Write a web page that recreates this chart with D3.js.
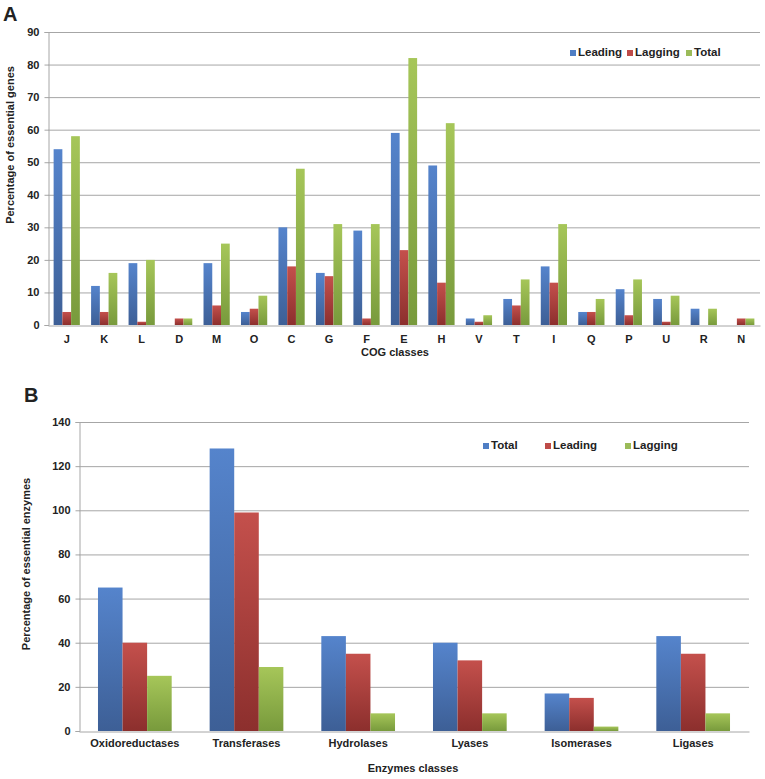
<!DOCTYPE html>
<html><head><meta charset="utf-8">
<script src="https://cdn.jsdelivr.net/npm/d3@7"></script>
<style>
html,body{margin:0;padding:0;background:#fff;}
text{font-family:"Liberation Sans",Arial,sans-serif;font-weight:bold;fill:#222;}
</style></head>
<body>
<svg id="c" width="765" height="779"></svg>
<script>
// Panel A data
const cogClasses = ["J","K","L","D","M","O","C","G","F","E","H","V","T","I","Q","P","U","R","N"];
const cogLeading = [54,12,19,0,19,4,30,16,29,59,49,2,8,18,4,11,8,5,0];
const cogLagging = [4,4,1,2,6,5,18,15,2,23,13,1,6,13,4,3,1,0,2];
const cogTotal   = [58,16,20,2,25,9,48,31,31,82,62,3,14,31,8,14,9,5,2];
const cogSeries  = ["Leading","Lagging","Total"];
const cogTicks   = [0,10,20,30,40,50,60,70,80,90];

// Panel B data
const enzClasses = ["Oxidoreductases","Transferases","Hydrolases","Lyases","Isomerases","Ligases"];
const enzTotal   = [65,128,43,40,17,43];
const enzLeading = [40,99,35,32,15,35];
const enzLagging = [25,29,8,8,2,8];
const enzSeries  = ["Total","Leading","Lagging"];
const enzTicks   = [0,20,40,60,80,100,120,140];

const svg = d3.select("#c");
const defs = svg.append("defs");
const palette = {
  blue: ["#5584cc","#3d5f96"],
  red: ["#c4504c","#8c2f2d"],
  green: ["#a6c659","#789a3c"]
};
Object.entries(palette).forEach(([k,[a,b]])=>{
  const g = defs.append("linearGradient").attr("id","g-"+k).attr("x1",0).attr("y1",0).attr("x2",0).attr("y2",1);
  g.append("stop").attr("offset","0%").attr("stop-color",a);
  g.append("stop").attr("offset","100%").attr("stop-color",b);
});
const solid = {blue:"#4f7ec4", red:"#be4b48", green:"#9bbb59"};

function panel(opts){
  const {cats, series, names, colors, ticks, x0, x1, yTop, yBot, max, pad, tickSize, letter, letterPos, yTitle, yTitlePos, xTitle, xTitlePos, legend} = opts;
  const g = svg.append("g");
  const x = d3.scaleBand().domain(cats).range([x0,x1]).paddingInner(pad).paddingOuter(pad/2);
  const xs = d3.scaleBand().domain(names).range([0,x.bandwidth()]);
  const y = d3.scaleLinear().domain([0,max]).range([yBot,yTop]);
  // gridlines
  g.append("g").selectAll("line").data(ticks.filter(t=>t>0)).join("line")
    .attr("x1",x0).attr("x2",x1).attr("y1",d=>y(d)+0.5).attr("y2",d=>y(d)+0.5)
    .attr("stroke","#a6a6a6").attr("stroke-width",1);
  // y axis
  const ya = g.append("g").attr("transform",`translate(${x0+0.5},0)`)
    .call(d3.axisLeft(y).tickValues(ticks).tickSize(4).tickPadding(5));
  ya.select(".domain").attr("stroke","#a6a6a6");
  ya.selectAll(".tick line").attr("stroke","#a6a6a6");
  ya.selectAll(".tick text").style("font-size","11px").style("font-family","Liberation Sans, Arial").style("font-weight","bold").attr("fill","#222");
  // bars
  cats.forEach((c,i)=>{
    series.forEach((s,j)=>{
      const v = s[i];
      if(v<=0) return;
      g.append("rect").attr("x",x(c)+xs(names[j])).attr("width",xs.bandwidth())
        .attr("y",y(v)).attr("height",y(0)-y(v)).attr("fill",`url(#g-${colors[j]})`);
    });
  });
  // x axis
  const xa = g.append("g").attr("transform",`translate(0,${yBot+0.5})`)
    .call(d3.axisBottom(x).tickSize(0).tickPadding(tickSize));
  xa.select(".domain").attr("stroke","#a6a6a6");
  xa.selectAll(".tick text").style("font-size","11px").style("font-family","Liberation Sans, Arial").style("font-weight","bold").attr("fill","#222");
  // letter
  svg.append("text").attr("x",letterPos[0]).attr("y",letterPos[1]).style("font-size","20px").text(letter);
  svg.append("text").attr("transform",`translate(${yTitlePos[0]},${yTitlePos[1]}) rotate(-90)`)
    .attr("text-anchor","middle").style("font-size","11px").text(yTitle);
  svg.append("text").attr("x",xTitlePos[0]).attr("y",xTitlePos[1]).attr("text-anchor","middle").style("font-size","11px").text(xTitle);
  // legend
  legend.pos.forEach((px,j)=>{
    svg.append("rect").attr("x",px).attr("y",legend.y-6).attr("width",6).attr("height",6).attr("fill",solid[colors[j]]);
    svg.append("text").attr("x",px+8).attr("y",legend.y).style("font-size","11.5px").text(names[j]);
  });
}

panel({
  cats: cogClasses, series:[cogLeading,cogLagging,cogTotal], names: cogSeries,
  colors:["blue","red","green"], ticks: cogTicks, x0:48, x1:760, yTop:32, yBot:325, max:90, pad:0.3, tickSize:10,
  letter:"A", letterPos:[3,21], yTitle:"Percentage of essential genes", yTitlePos:[14,145],
  xTitle:"COG classes", xTitlePos:[395,356],
  legend:{y:56, pos:[570,627,686]}
});
panel({
  cats: enzClasses, series:[enzTotal,enzLeading,enzLagging], names: enzSeries,
  colors:["blue","red","green"], ticks: enzTicks, x0:79, x1:749, yTop:422, yBot:731, max:140, pad:0.34, tickSize:8,
  letter:"B", letterPos:[24,402], yTitle:"Percentage of essential enzymes", yTitlePos:[30,564],
  xTitle:"Enzymes classes", xTitlePos:[413,772],
  legend:{y:449, pos:[483,545,625]}
});
</script>
</body></html>
